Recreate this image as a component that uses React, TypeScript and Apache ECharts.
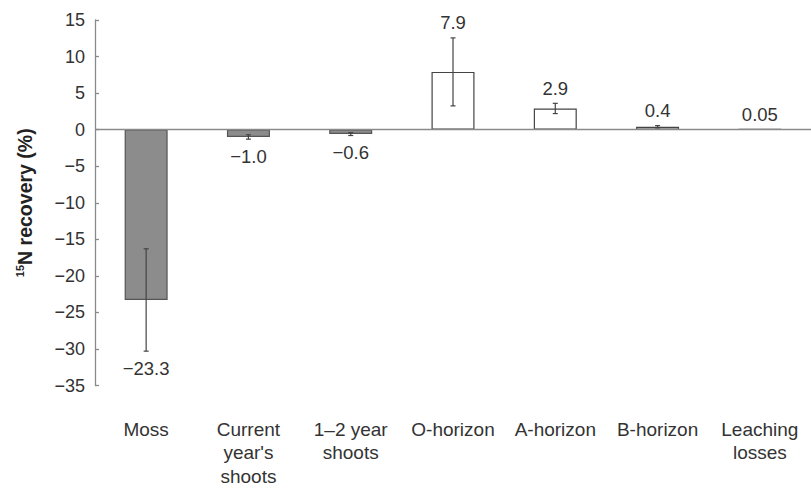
import React, { useEffect, useRef } from "react";
import * as echarts from "echarts";

const categories = [
  "Moss",
  "Current\nyear's\nshoots",
  "1–2 year\nshoots",
  "O-horizon",
  "A-horizon",
  "B-horizon",
  "Leaching\nlosses",
];
const recovery = [-23.3, -1.0, -0.6, 7.9, 2.9, 0.4, 0.05];
const errors = [7.0, 0.3, 0.2, 4.65, 0.7, 0.15, 0];
const valueLabels = ["−23.3", "−1.0", "−0.6", "7.9", "2.9", "0.4", "0.05"];
const yMin = -35;
const yMax = 15;
const yStep = 5;

const FONT = "'Liberation Sans', Arial, Helvetica, sans-serif";

export default function App() {
  const ref = useRef<HTMLDivElement>(null);

  useEffect(() => {
    document.body.style.margin = "0";
    if (!ref.current) return;
    const chart = echarts.init(ref.current, null, { renderer: "svg" });

    const option: any = {
      animation: false,
      backgroundColor: "#ffffff",
      grid: { left: 95, top: 20, bottom: 95, width: 732, containLabel: false },
      xAxis: {
        type: "category",
        data: categories,
        position: "bottom",
        axisLine: { show: false, onZero: false },
        axisTick: { show: false },
        axisLabel: {
          interval: 0,
          margin: 32,
          color: "#333",
          fontFamily: FONT,
          fontSize: 19,
          lineHeight: 23.5,
          align: "center",
        },
        splitLine: { show: false },
      },
      yAxis: {
        type: "value",
        min: yMin,
        max: yMax,
        interval: yStep,
        axisLine: { show: true, lineStyle: { color: "#8a8a8a", width: 1.3 } },
        axisTick: { show: true, inside: true, length: 4, lineStyle: { color: "#8a8a8a", width: 1.3 } },
        axisLabel: {
          margin: 10,
          color: "#333",
          fontFamily: FONT,
          fontSize: 18,
          formatter: (v: number) => (v < 0 ? "−" + Math.abs(v) : String(v)),
        },
        splitLine: { show: false },
        name: "{sup|15}{main|N recovery (%)}",
        nameLocation: "middle",
        nameGap: 60,
        nameRotate: 90,
        nameTextStyle: {
          rich: {
            sup: { fontSize: 11, fontWeight: "bold", fontFamily: FONT, color: "#222", padding: [0, 0, 10, 0] },
            main: { fontSize: 19.5, fontWeight: "bold", fontFamily: FONT, color: "#222" },
          },
        },
      },
      series: [
        {
          type: "bar",
          barWidth: 43,
          data: recovery.map((v) => ({
            value: v,
            itemStyle:
              v < 0
                ? { color: "#8c8c8c", borderColor: "#555", borderWidth: 1.2 }
                : { color: "#ffffff", borderColor: "#444", borderWidth: 1.2 },
          })),
          markLine: {
            silent: true,
            symbol: ["none", "none"],
            label: { show: false },
            lineStyle: { color: "#8a8a8a", type: "solid", width: 1.3 },
            data: [{ yAxis: 0 }],
          },
          z: 2,
        },
        {
          type: "custom",
          z: 5,
          data: recovery.map((v, i) => [i, v, errors[i]]),
          encode: { x: 0, y: 1 },
          renderItem: (params: any, api: any) => {
            const i = api.value(0);
            const v = api.value(1);
            const e = api.value(2);
            const top = api.coord([i, v + e]);
            const bot = api.coord([i, v - e]);
            const x = top[0];
            const children: any[] = [];
            const lineStyle = { stroke: "#444", lineWidth: 1.2 };
            if (e > 0) {
              children.push({ type: "line", shape: { x1: x, y1: top[1], x2: x, y2: bot[1] }, style: lineStyle });
              children.push({ type: "line", shape: { x1: x - 2.5, y1: top[1], x2: x + 2.5, y2: top[1] }, style: lineStyle });
              children.push({ type: "line", shape: { x1: x - 2.5, y1: bot[1], x2: x + 2.5, y2: bot[1] }, style: lineStyle });
            }
            const ly = v >= 0 ? top[1] - 15 : bot[1] + 17;
            children.push({
              type: "text",
              x,
              y: ly,
              style: {
                text: valueLabels[params.dataIndex],
                fill: "#333",
                fontSize: 18.5,
                fontFamily: FONT,
                align: "center",
                verticalAlign: "middle",
              },
            });
            return { type: "group", children };
          },
        },
      ],
    };

    chart.setOption(option);
    return () => chart.dispose();
  }, []);

  return <div ref={ref} style={{ width: 811, height: 488 }} />;
}
